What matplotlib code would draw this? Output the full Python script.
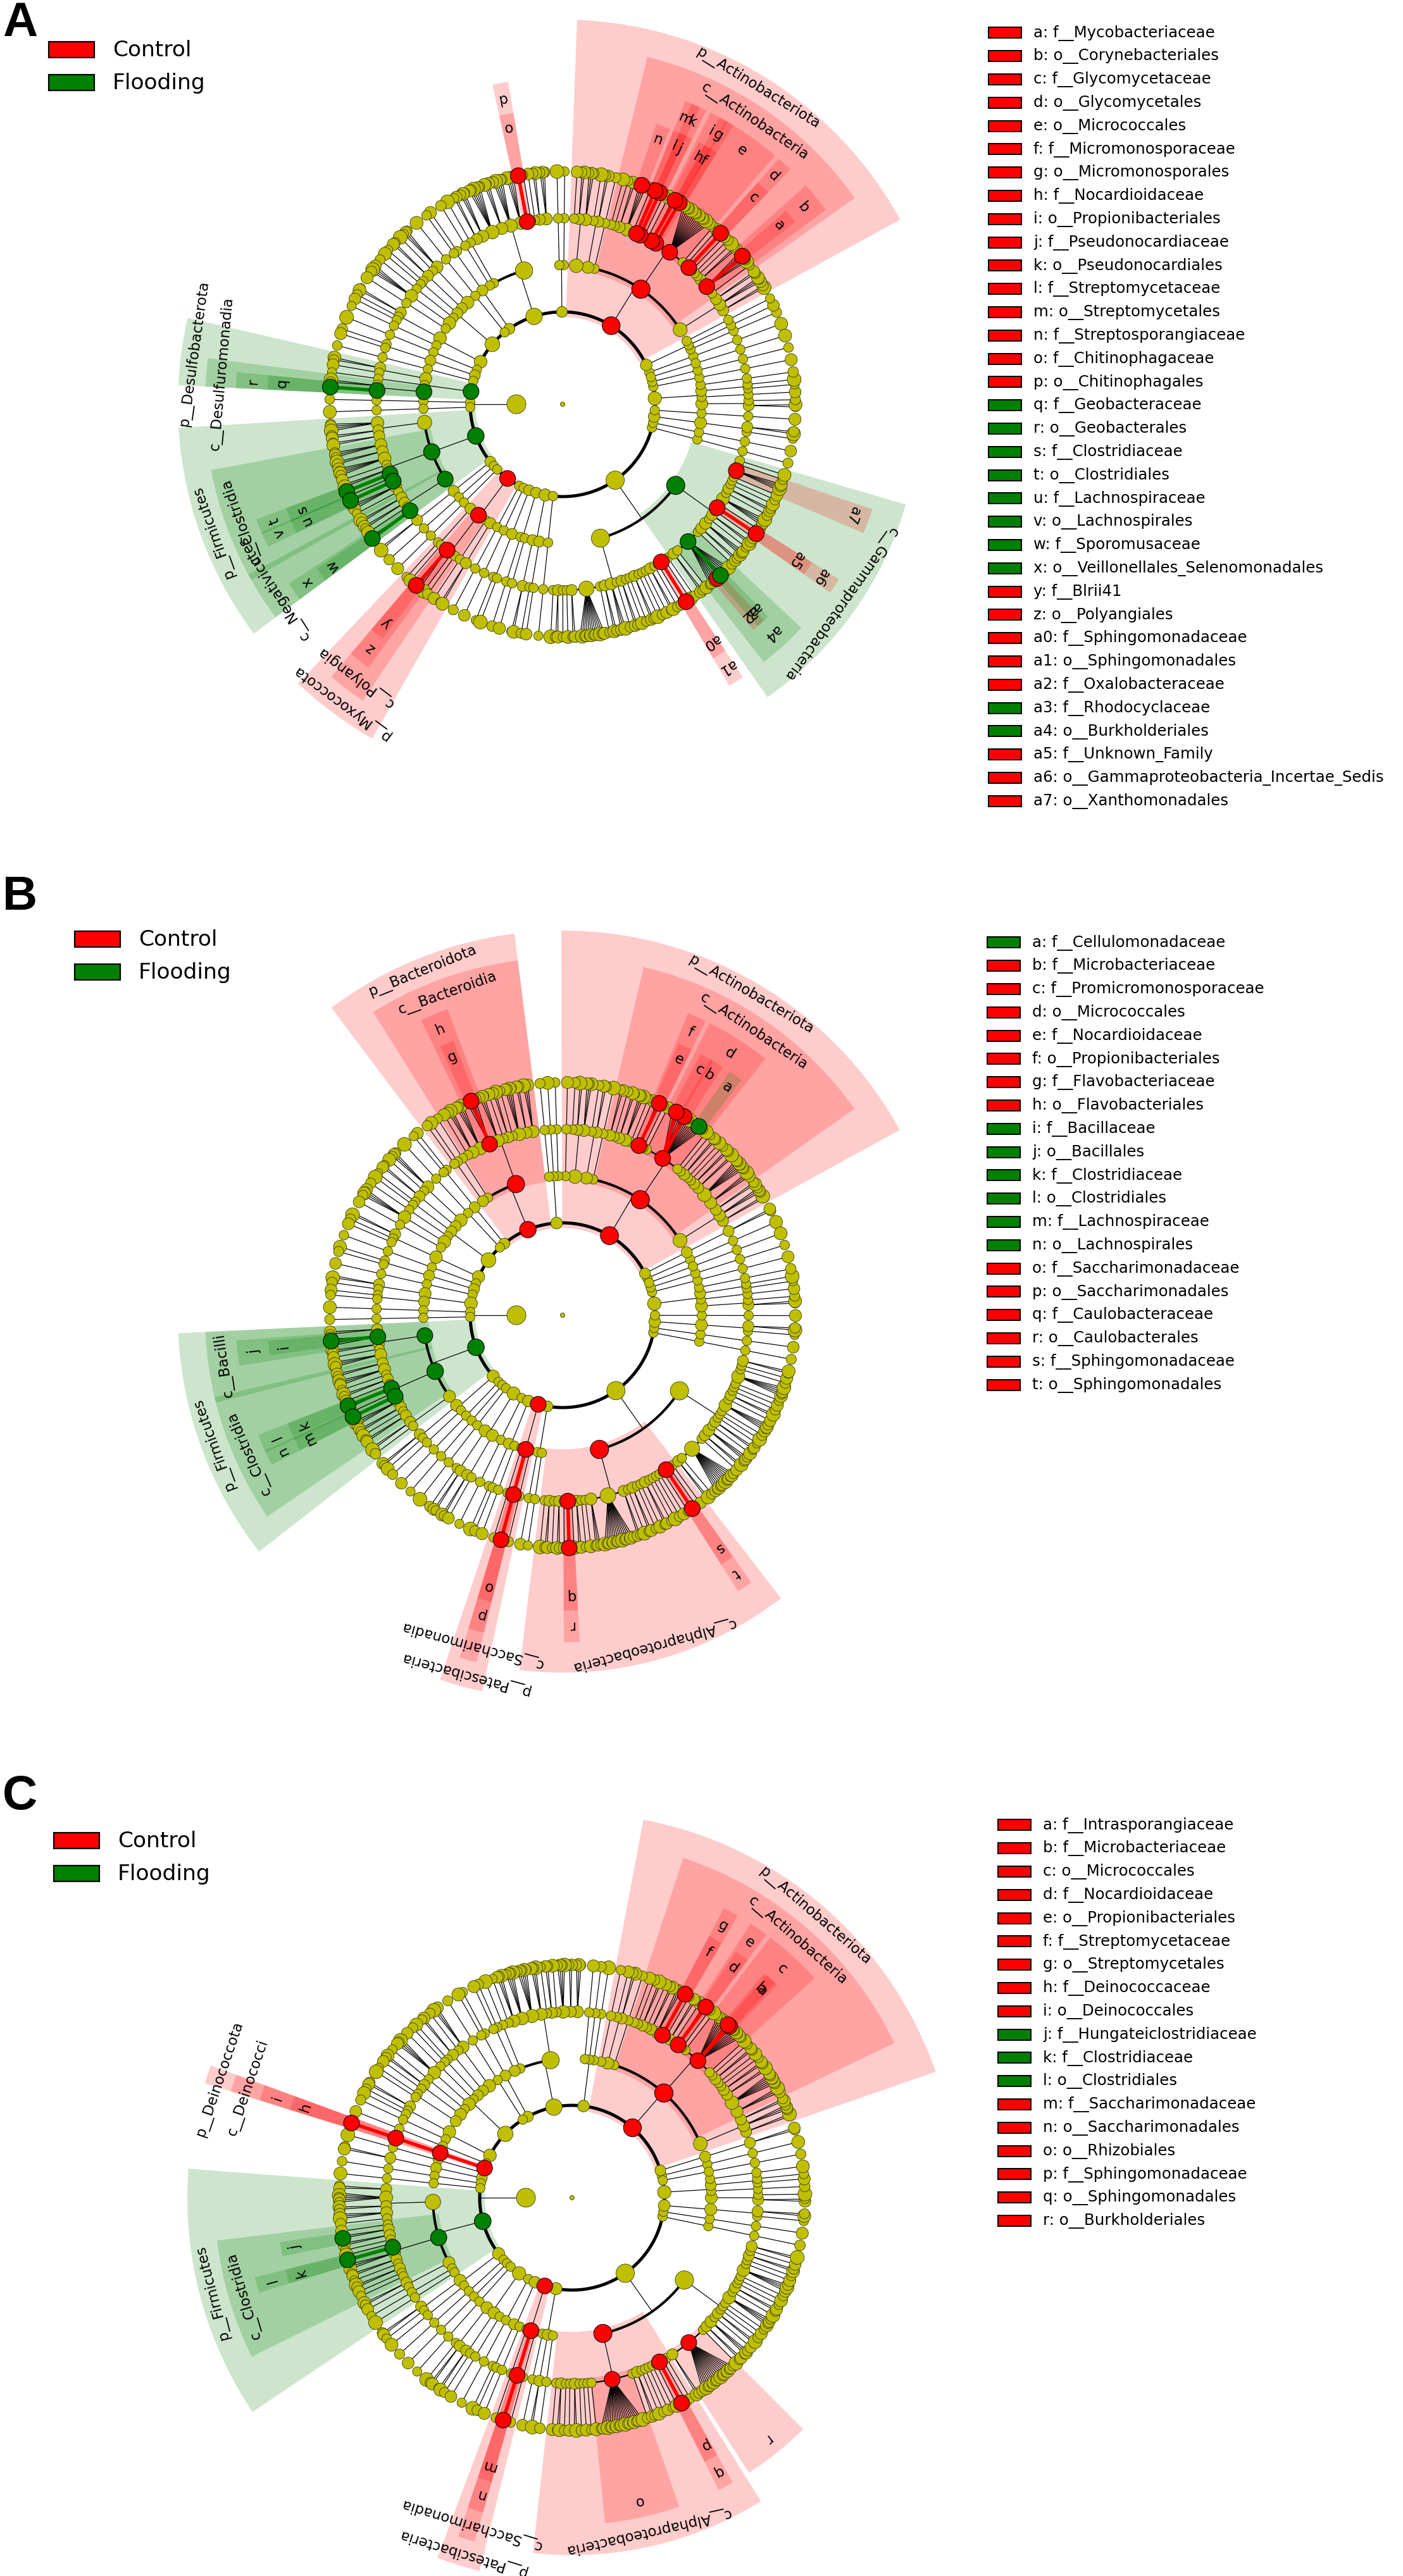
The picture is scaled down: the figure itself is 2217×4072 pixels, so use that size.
import numpy as np
import matplotlib
matplotlib.use("Agg")
import matplotlib.pyplot as plt
from matplotlib.patches import Wedge, Circle, Rectangle
from matplotlib.collections import PatchCollection, LineCollection

W, H = 2217, 4072
RED, GREEN, YEL = "#FF0000", "#008000", "#BFBF00"
GROUP_COLOR = {"Control": RED, "Flooding": GREEN}
GROUPS = ["Control", "Flooding"]

# ---------------------------------------------------------------------------
# taxonomy trees, in drawing order (counter-clockwise).
# phylum: (name, [classes]); class: "n n n" (unnamed, one int per order = its
# number of families) or (name, [orders]); order: int (unnamed, n families) or
# (name, [families]); family: name or int (that many unnamed families)
# ---------------------------------------------------------------------------
CHLOROFLEXI = ["3 1", "2", "1 1", "1", "4", "1"]
TAIL = [("p__RCP2-54", ["1"]), ("p__SAR324", ["1"]), ("p__Spirochaetota", ["1 2"]),
        ("p__Sumerlaeota", ["1"]),
        ("p__Verrucomicrobiota", ["2 1", "1", "1 1", "1"]),
        ("p__WPS-2", ["1"]), ("p__WS2", ["1"]), ("p__Zixibacteria", ["1"])]
TAIL_C = [("p__RCP2-54", ["1"]), ("p__SAR324", ["1"]), ("p__Spirochaetota", ["1 2"]),
          ("p__Verrucomicrobiota", ["2 1", "1", "1 1", "1"]), ("p__WPS-2", ["1"])]

TREE_A = [
    ("p__Abditibacteriota", ["1"]),
    ("p__Acidobacteriota", ["1", "1", "1"]),
    ("p__Actinobacteriota", [
        "2 3 2",
        ("c__Actinobacteria", [
            1, ("o__Corynebacteriales", [3, "f__Mycobacteriaceae", 2]), 2, 1, 1, 1,
            ("o__Glycomycetales", ["f__Glycomycetaceae"]), 1, 1,
            ("o__Micrococcales", [15]),
            ("o__Micromonosporales", ["f__Micromonosporaceae"]),
            ("o__Propionibacteriales", ["f__Nocardioidaceae", 1]), 1, 1,
            ("o__Pseudonocardiales", ["f__Pseudonocardiaceae"]),
            ("o__Streptomycetales", ["f__Streptomycetaceae"]), 1,
            ("o__Streptosporangiales", [2, "f__Streptosporangiaceae", 1]), 2, 1, 1]),
        "1", "2 1", "3 2 1"]),
    ("p__Armatimonadota", ["1", "1"]),
    ("p__Bacteroidota", [
        ("c__Bacteroidia", [3, 2, 1, 1, ("o__Chitinophagales", ["f__Chitinophagaceae"]), 4, 5, 3, 6, 3, 2]),
        "1", "1"]),
    ("p__Bdellovibrionota", ["1 1"]),
    ("p__Campilobacterota", ["1"]),
    ("p__Chloroflexi", CHLOROFLEXI),
    ("p__Cyanobacteria", ["2 1 1", "1"]),
    ("p__Dadabacteria", ["1"]),
    ("p__Deinococcota", ["1 1"]),
    ("p__Dependentiae", ["1"]),
    ("p__Desulfobacterota", [
        "2 1", "1",
        ("c__Desulfuromonadia", [2, ("o__Geobacterales", ["f__Geobacteraceae"])])]),
    ("p__Elusimicrobiota", ["1"]), ("p__Entotheonellaeota", ["1"]),
    ("p__Firmicutes", [
        "4 2 2",
        ("c__Clostridia", [3, 2, 4, 1, 2, ("o__Clostridiales", ["f__Clostridiaceae"]), 1,
                           ("o__Lachnospirales", ["f__Lachnospiraceae"]), 3, 1]),
        ("c__Negativicutes", [2, 2, 1, ("o__Veillonellales_Selenomonadales", [1, "f__Sporomusaceae"])])]),
    ("p__Gemmatimonadota", ["2"]),
    ("p__Latescibacterota", ["1"]),
    ("p__Methylomirabilota", ["1"]),
    ("p__Myxococcota", [
        "1 1",
        ("c__Polyangia", [("o__Polyangiales", ["f__Blrii41", 2]), 1, 1]),
        "1", "2"]),
    ("p__NB1-j", ["1"]), ("p__Nitrospinota", ["1"]), ("p__Nitrospirota", ["1 1"]),
    ("p__Patescibacteria", ["1", "1"]),
    ("p__Planctomycetota", ["2", "1 1"]),
    ("p__Poribacteria", ["1"]),
    ("p__Proteobacteria", [
        ("c__Alphaproteobacteria", [1, 2, 1, 1, 2, 12, 1, 2, 3, 1, 2, 1, 1, 2, 1, 1, 1, 2, 1, 1,
                                    ("o__Sphingomonadales", ["f__Sphingomonadaceae"]), 1, 1]),
        ("c__Gammaproteobacteria", [
            2, 1, ("o__Burkholderiales", [4, "f__Oxalobacteraceae", 1, "f__Rhodocyclaceae", 5]),
            1, 2, 3, 1, 2, 1, ("o__Gammaproteobacteria_Incertae_Sedis", ["f__Unknown_Family"]),
            1, 4, 1, 2, 1, 1, 1, ("o__Xanthomonadales", [4]), 1, 1])]),
] + TAIL

TREE_B = [
    ("p__Abditibacteriota", ["1"]),
    ("p__Acidobacteriota", ["2"]),
    ("p__Actinobacteriota", [
        "2 3 2",
        ("c__Actinobacteria", [
            3, 6, 2, 2, 1, 1, 2, 1, 1,
            ("o__Micrococcales", [2, "f__Cellulomonadaceae", 7, "f__Microbacteriaceae", 3,
                                  "f__Promicromonosporaceae", 2]),
            1, 1, ("o__Propionibacteriales", ["f__Nocardioidaceae", 1]), 1, 1, 3, 2, 1, 2]),
        "1", "2 1", "3 2 1", "1"]),
    ("p__Armatimonadota", ["1", "1", "1"]),
    ("p__Bacteroidota", [
        ("c__Bacteroidia", [3, 2, 4, 1, 2, 1, 3, ("o__Flavobacteriales", [2, "f__Flavobacteriaceae", 2]),
                            4, 3, 1]),
        "1", "1 1"]),
    ("p__Bdellovibrionota", ["1 1"]),
    ("p__Campilobacterota", ["1"]),
    ("p__Chloroflexi", CHLOROFLEXI),
    ("p__Cyanobacteria", ["2 1 1"]),
    ("p__Dadabacteria", ["1"]),
    ("p__Deinococcota", ["1 1"]),
    ("p__Dependentiae", ["1"]),
    ("p__Desulfobacterota", ["2 1", "1 1"]),
    ("p__Elusimicrobiota", ["1"]), ("p__Entotheonellaeota", ["1"]),
    ("p__Firmicutes", [
        ("c__Bacilli", [2, ("o__Bacillales", [1, "f__Bacillaceae", 2]), 2, 1, 3]),
        ("c__Clostridia", [2, 3, 1, 2, 1, ("o__Clostridiales", ["f__Clostridiaceae", 1]), 1,
                           ("o__Lachnospirales", ["f__Lachnospiraceae"]), 3, 2, 1, 2]),
        "2 1"]),
    ("p__Gemmatimonadota", ["2 1", "1"]),
    ("p__Latescibacterota", ["1"]), ("p__MBNT15", ["1"]),
    ("p__Methylomirabilota", ["1"]),
    ("p__Myxococcota", ["1 2", "2 1"]),
    ("p__NB1-j", ["1"]), ("p__Nitrospirota", ["1 1", "1"]),
    ("p__Patescibacteria", [
        "1",
        ("c__Saccharimonadia", [("o__Saccharimonadales", ["f__Saccharimonadaceae"])]),
        "1"]),
    ("p__Planctomycetota", ["1", "1"]),
    ("p__Proteobacteria", [
        ("c__Alphaproteobacteria", [1, 2, 1, 2, 1, ("o__Caulobacterales", ["f__Caulobacteraceae"]),
                                    1, 2, 1, 1, 3, 14, 2, 1, 2, 1, 1, 2, 1, 1, 1, 1, 1,
                                    ("o__Sphingomonadales", ["f__Sphingomonadaceae"]), 1, 1]),
        ("c__Gammaproteobacteria", [2, 1, 12, 1, 2, 3, 1, 2, 1, 1, 1, 4, 1, 2, 1, 1, 1, 5, 1, 1, 2])]),
] + TAIL

TREE_C = [
    ("p__Abditibacteriota", ["1"]),
    ("p__Acidobacteriota", ["2"]),
    ("p__Actinobacteriota", [
        "2 3 2",
        ("c__Actinobacteria", [
            3, 6, 2, 2, 1, 1, 2, 1, 1,
            ("o__Micrococcales", [7, "f__Intrasporangiaceae", "f__Microbacteriaceae", 6]),
            1, 1, ("o__Propionibacteriales", ["f__Nocardioidaceae", 1]), 1, 2, 1,
            ("o__Streptomycetales", ["f__Streptomycetaceae"]), 3, 2, 1, 2, 1, 1]),
        "1", "2 1", "1"]),
    ("p__Armatimonadota", ["1", "1", "1"]),
    ("p__Bacteroidota", [("c__Bacteroidia", [3, 2, 4, 1, 2, 1, 3, 5, 4, 3, 1]), "1", "1 1"]),
    ("p__Bdellovibrionota", ["1 1"]),
    ("p__Campilobacterota", ["1"]),
    ("p__Chloroflexi", CHLOROFLEXI + ["2 1", "1 1"]),
    ("p__Cyanobacteria", ["2 1 1", "1"]),
    ("p__Dadabacteria", ["1"]),
    ("p__Deinococcota", [("c__Deinococci", [("o__Deinococcales", ["f__Deinococcaceae"])])]),
    ("p__Dependentiae", ["1"]),
    ("p__Desulfobacterota", ["2"]),
    ("p__Elusimicrobiota", ["1"]), ("p__Entotheonellaeota", ["1"]),
    ("p__Firmicutes", [
        "2 5 2 3 1",
        ("c__Clostridia", [1, ("", [1, "f__Hungateiclostridiaceae"]), 2, 1, 1,
                           ("o__Clostridiales", ["f__Clostridiaceae"]), 3, 2, 1, 2, 1, 1]),
        "2 1", "1", "1"]),
    ("p__Gemmatimonadota", ["2 1", "1"]),
    ("p__Latescibacterota", ["1"]), ("p__MBNT15", ["1"]),
    ("p__Methylomirabilota", ["1"]),
    ("p__Myxococcota", ["1 2", "2 1", "1"]),
    ("p__NB1-j", ["1"]), ("p__Nitrospirota", ["1 1", "1"]),
    ("p__Patescibacteria", [
        "1",
        ("c__Saccharimonadia", [("o__Saccharimonadales", ["f__Saccharimonadaceae"])]),
        "1"]),
    ("p__Planctomycetota", ["1", "2", "1"]),
    ("p__Proteobacteria", [
        ("c__Alphaproteobacteria", [1, 2, 1, 1, 2, 1, 1, 1, 1, ("o__Rhizobiales", [20]),
                                    1, 2, 1, 1, 1, 1, 1,
                                    ("o__Sphingomonadales", ["f__Sphingomonadaceae"]), 1, 1]),
        ("c__Gammaproteobacteria", [2, ("o__Burkholderiales", [18]), 1, 2, 3, 1, 2, 1, 1, 1, 4, 1, 2,
                                    1, 1, 1, 4, 1, 1, 2, 1, 2])]),
] + TAIL_C

# clades labelled with their full names (phyla, classes)
NAMED_A = {"p__Actinobacteriota": "Control", "c__Actinobacteria": "Control",
           "p__Desulfobacterota": "Flooding", "c__Desulfuromonadia": "Flooding",
           "p__Firmicutes": "Flooding", "c__Clostridia": "Flooding", "c__Negativicutes": "Flooding",
           "p__Myxococcota": "Control", "c__Polyangia": "Control",
           "c__Gammaproteobacteria": "Flooding"}
NAMED_B = {"p__Actinobacteriota": "Control", "c__Actinobacteria": "Control",
           "p__Bacteroidota": "Control", "c__Bacteroidia": "Control",
           "p__Firmicutes": "Flooding", "c__Bacilli": "Flooding", "c__Clostridia": "Flooding",
           "p__Patescibacteria": "Control", "c__Saccharimonadia": "Control",
           "c__Alphaproteobacteria": "Control"}
NAMED_C = {"p__Actinobacteriota": "Control", "c__Actinobacteria": "Control",
           "p__Deinococcota": "Control", "c__Deinococci": "Control",
           "p__Firmicutes": "Flooding", "c__Clostridia": "Flooding",
           "p__Patescibacteria": "Control", "c__Saccharimonadia": "Control",
           "c__Alphaproteobacteria": "Control"}

# lettered clades (legend on the right)
LEG_A_NAMES = ["f__Mycobacteriaceae", "o__Corynebacteriales", "f__Glycomycetaceae", "o__Glycomycetales",
               "o__Micrococcales", "f__Micromonosporaceae", "o__Micromonosporales", "f__Nocardioidaceae",
               "o__Propionibacteriales", "f__Pseudonocardiaceae", "o__Pseudonocardiales",
               "f__Streptomycetaceae", "o__Streptomycetales", "f__Streptosporangiaceae",
               "f__Chitinophagaceae", "o__Chitinophagales", "f__Geobacteraceae", "o__Geobacterales",
               "f__Clostridiaceae", "o__Clostridiales", "f__Lachnospiraceae", "o__Lachnospirales",
               "f__Sporomusaceae", "o__Veillonellales_Selenomonadales", "f__Blrii41", "o__Polyangiales",
               "f__Sphingomonadaceae", "o__Sphingomonadales", "f__Oxalobacteraceae", "f__Rhodocyclaceae",
               "o__Burkholderiales", "f__Unknown_Family", "o__Gammaproteobacteria_Incertae_Sedis",
               "o__Xanthomonadales"]
LEG_A_GROUPS = ["Control"] * 16 + ["Flooding"] * 8 + ["Control"] * 5 + ["Flooding"] * 2 + ["Control"] * 3

LEG_B_NAMES = ["f__Cellulomonadaceae", "f__Microbacteriaceae", "f__Promicromonosporaceae", "o__Micrococcales",
               "f__Nocardioidaceae", "o__Propionibacteriales", "f__Flavobacteriaceae", "o__Flavobacteriales",
               "f__Bacillaceae", "o__Bacillales", "f__Clostridiaceae", "o__Clostridiales",
               "f__Lachnospiraceae", "o__Lachnospirales", "f__Saccharimonadaceae", "o__Saccharimonadales",
               "f__Caulobacteraceae", "o__Caulobacterales", "f__Sphingomonadaceae", "o__Sphingomonadales"]
LEG_B_GROUPS = ["Flooding"] + ["Control"] * 7 + ["Flooding"] * 6 + ["Control"] * 6

LEG_C_NAMES = ["f__Intrasporangiaceae", "f__Microbacteriaceae", "o__Micrococcales", "f__Nocardioidaceae",
               "o__Propionibacteriales", "f__Streptomycetaceae", "o__Streptomycetales", "f__Deinococcaceae",
               "o__Deinococcales", "f__Hungateiclostridiaceae", "f__Clostridiaceae", "o__Clostridiales",
               "f__Saccharimonadaceae", "o__Saccharimonadales", "o__Rhizobiales", "f__Sphingomonadaceae",
               "o__Sphingomonadales", "o__Burkholderiales"]
LEG_C_GROUPS = ["Control"] * 9 + ["Flooding"] * 3 + ["Control"] * 6

# ---------------------------------------------------------------------------
RADII = [0, 73, 146, 220, 294, 368]             # root .. family ring, px
SECT_OUT = {2: 608, 3: 565, 4: 517, 5: 467}
LABEL_R = {2: 588, 3: 541, 4: 491, 5: 444}
# angular gap between neighbouring leaves: same order, new order, new class, new phylum
GAP = {5: 1.0, 4: 2.2, 3: 3.4, 2: 5.5}
FAM_SCALE = [1.05, 0.82, 0.95, 0.75, 1.12, 0.86, 0.98, 0.78]
PX = 0.72                                        # points per pixel at dpi 100


def make(name, lev, kids=()):
    return {"name": name, "lev": lev, "kids": list(kids)}


def order_node(o):
    if isinstance(o, int):
        return make("", 4, [make("", 5) for _ in range(o)])
    fams = []
    for f in o[1]:
        if isinstance(f, str):
            fams.append(make(f, 5))
        else:
            fams += [make("", 5) for _ in range(f)]
    return make(o[0], 4, fams)


def class_node(c):
    if isinstance(c, str):
        return make("", 3, [order_node(int(t)) for t in c.split()])
    return make(c[0], 3, [order_node(o) for o in c[1]])


def build(tree):
    return make("", 0, [make("k__Bacteria", 1,
                             [make(p, 2, [class_node(c) for c in cl]) for p, cl in tree])])


def walk(node):
    yield node
    for kid in node["kids"]:
        yield from walk(kid)


def layout(root, theta0):
    # leaves with the (phylum, class, order) they belong to
    leaves = []

    def rec(nd, path):
        if not nd["kids"]:
            leaves.append((nd, path))
            return
        for kid in nd["kids"]:
            rec(kid, path + (id(kid),) if kid["lev"] <= 4 else path)

    rec(root["kids"][0], ())
    pos, prev = [], None
    for nd, path in leaves:
        if prev is None:
            pos.append(0.0)
        else:
            lev = next((i + 2 for i in range(3) if path[i] != prev[i]), 5)
            pos.append(pos[-1] + GAP[lev])
        prev = path
    unit = 360.0 / (pos[-1] + GAP[2])
    for k, ((nd, _), p) in enumerate(zip(leaves, pos)):
        nd["theta"] = theta0 + p * unit
        nd["k"] = k

    def up(nd):
        if nd["kids"]:
            for kid in nd["kids"]:
                up(kid)
            nd["first"], nd["last"] = nd["kids"][0]["first"], nd["kids"][-1]["last"]
            nd["theta"] = 0.5 * (nd["first"] + nd["last"])
            nd["n"] = sum(k["n"] for k in nd["kids"])
            nd["k"] = nd["kids"][0]["k"]
        else:
            nd["first"] = nd["last"] = nd["theta"]
            nd["n"] = 1

    up(root)


def letter(i):
    return chr(97 + i) if i < 26 else "a%d" % (i - 26)


def node_radius(nd):
    lev = nd["lev"]
    if lev == 0:
        return 3.5
    if lev == 1:
        return 15.0
    if lev == 5:
        return 9.8 * FAM_SCALE[nd["k"] % len(FAM_SCALE)]
    top = {2: 80, 3: 45, 4: 15}[lev]
    lo, hi = {2: (7.5, 14.5), 3: (7.5, 14.5), 4: (7.5, 12.5)}[lev]
    return lo + (hi - lo) * min(1.0, np.log(nd["n"]) / np.log(top))


def draw_cladogram(ax, tree, theta0, centre, named, leg_names, leg_groups):
    cx, cy = centre[0], H - centre[1]
    root = build(tree)
    layout(root, theta0)
    root["theta"] = 0.0
    root["kids"][0]["theta"] = 180.0

    group = dict(named)
    letters = {}
    for i, (nm, g) in enumerate(zip(leg_names, leg_groups)):
        group[nm] = g
        letters[nm] = letter(i)

    def pt(theta, r):
        t = np.radians(theta)
        return cx + r * np.cos(t), cy + r * np.sin(t)

    def arc(t1, t2, r):
        t = np.radians(np.linspace(t1, t2, max(3, int(abs(t2 - t1) * 3))))
        return np.column_stack([cx + r * np.cos(t), cy + r * np.sin(t)])

    # highlighted sectors
    pad = 1.4
    for lev in (2, 3, 4, 5):
        for nd in walk(root):
            if nd["lev"] != lev or nd["name"] not in group:
                continue
            col = GROUP_COLOR[group[nd["name"]]]
            r_in = RADII[lev] - 8
            ax.add_patch(Wedge((cx, cy), SECT_OUT[lev], nd["first"] - pad, nd["last"] + pad,
                               width=SECT_OUT[lev] - r_in, facecolor=col, alpha=0.2, lw=0, zorder=1))
            tm = 0.5 * (nd["first"] + nd["last"])
            x, y = pt(tm, LABEL_R[lev])
            txt = nd["name"] if lev <= 3 else letters[nd["name"]]
            ax.text(x, y, txt, rotation=tm - 90, rotation_mode="anchor", ha="center",
                    va="center", fontsize=16.4, color="black", zorder=6)

    # connectors: radial + sibling arc for the upper levels, straight fans below
    thin, arcs, coloured = [], [], []
    arc_lw = {1: 5.0, 2: 4.0, 3: 2.2}
    for nd in walk(root):
        if nd["lev"] == 0 or not nd["kids"]:
            continue
        lev = nd["lev"]
        rp, rc = RADII[lev], RADII[lev + 1]
        elbow = lev <= 3 and len(nd["kids"]) > 1
        if elbow:
            thin.append([pt(nd["theta"], rp), pt(nd["theta"], rc)])
            arcs.append((arc(nd["kids"][0]["theta"], nd["kids"][-1]["theta"], rc), arc_lw[lev]))
            continue
        for kid in nd["kids"]:
            seg = [pt(nd["theta"], rp), pt(kid["theta"], rc)]
            thin.append(seg)
            g1, g2 = group.get(nd["name"]), group.get(kid["name"])
            if g1 is not None and g1 == g2:
                coloured.append((seg, GROUP_COLOR[g1]))
    ax.add_collection(LineCollection(thin, colors="black", linewidths=1.2 * PX, zorder=2))
    for xy, lw in arcs:
        ax.plot(xy[:, 0], xy[:, 1], color="black", lw=lw * PX, solid_capstyle="butt", zorder=2)
    for seg, col in coloured:
        ax.add_collection(LineCollection([seg], colors=col, linewidths=5.5 * PX, zorder=3))

    # nodes
    plain, hl, hl_cols = [], [], []
    for nd in walk(root):
        x, y = pt(nd["theta"], RADII[nd["lev"]])
        rad = node_radius(nd)
        if nd["name"] in group:
            hl.append(Circle((x, y), max(rad, 12.5)))
            hl_cols.append(GROUP_COLOR[group[nd["name"]]])
        else:
            plain.append(Circle((x, y), rad))
    ax.add_collection(PatchCollection(plain, facecolor=YEL, edgecolor="#333300",
                                      linewidths=0.8 * PX, zorder=4))
    ax.add_collection(PatchCollection(hl, facecolor=hl_cols, edgecolor="black",
                                      linewidths=1.0 * PX, zorder=5))


def draw_group_legend(ax, x0, y0):
    for i, g in enumerate(GROUPS):
        yc = H - (y0 + 52 * i)
        ax.add_patch(Rectangle((x0, yc - 12.5), 72, 25, facecolor=GROUP_COLOR[g],
                               edgecolor="black", lw=2.2 * PX, zorder=7))
        ax.text(x0 + 101, yc, g, fontsize=24.8, va="center", ha="left", zorder=7)


def draw_letter_legend(ax, x0, y0, names, groups):
    for i, (nm, g) in enumerate(zip(names, groups)):
        yc = H - (y0 + 36.8 * i)
        ax.add_patch(Rectangle((x0, yc - 8.5), 52, 17, facecolor=GROUP_COLOR[g],
                               edgecolor="black", lw=2.0 * PX, zorder=7))
        ax.text(x0 + 71, yc, "%s: %s" % (letter(i), nm), fontsize=17.6, va="center",
                ha="left", zorder=7)


fig = plt.figure(figsize=(W / 100 + 1e-5, H / 100 + 1e-5), dpi=100)
ax = fig.add_axes([0, 0, 1, 1])
ax.set_xlim(0, W)
ax.set_ylim(0, H)
ax.axis("off")

PANELS = [
    ("A", TREE_A, 20.2, (889, 639), NAMED_A, LEG_A_NAMES, LEG_A_GROUPS, (77, 79), (1562, 52), 37),
    ("B", TREE_B, 23.6, (889, 2079), NAMED_B, LEG_B_NAMES, LEG_B_GROUPS, (118, 1485), (1560, 1490), 1418),
    ("C", TREE_C, 13.85, (904, 3474), NAMED_C, LEG_C_NAMES, LEG_C_GROUPS, (85, 2910), (1577, 2885), 2840),
]
for lab, tree, th0, ctr, named, lnames, lgroups, gpos, lpos, ylab in PANELS:
    draw_cladogram(ax, tree, th0, ctr, named, lnames, lgroups)
    draw_group_legend(ax, *gpos)
    draw_letter_legend(ax, lpos[0], lpos[1], lnames, lgroups)
    ax.text(4, H - ylab, lab, fontsize=55, fontweight="bold", family="Liberation Sans",
            ha="left", va="center", zorder=8)

fig.savefig("out.png", dpi=100)
